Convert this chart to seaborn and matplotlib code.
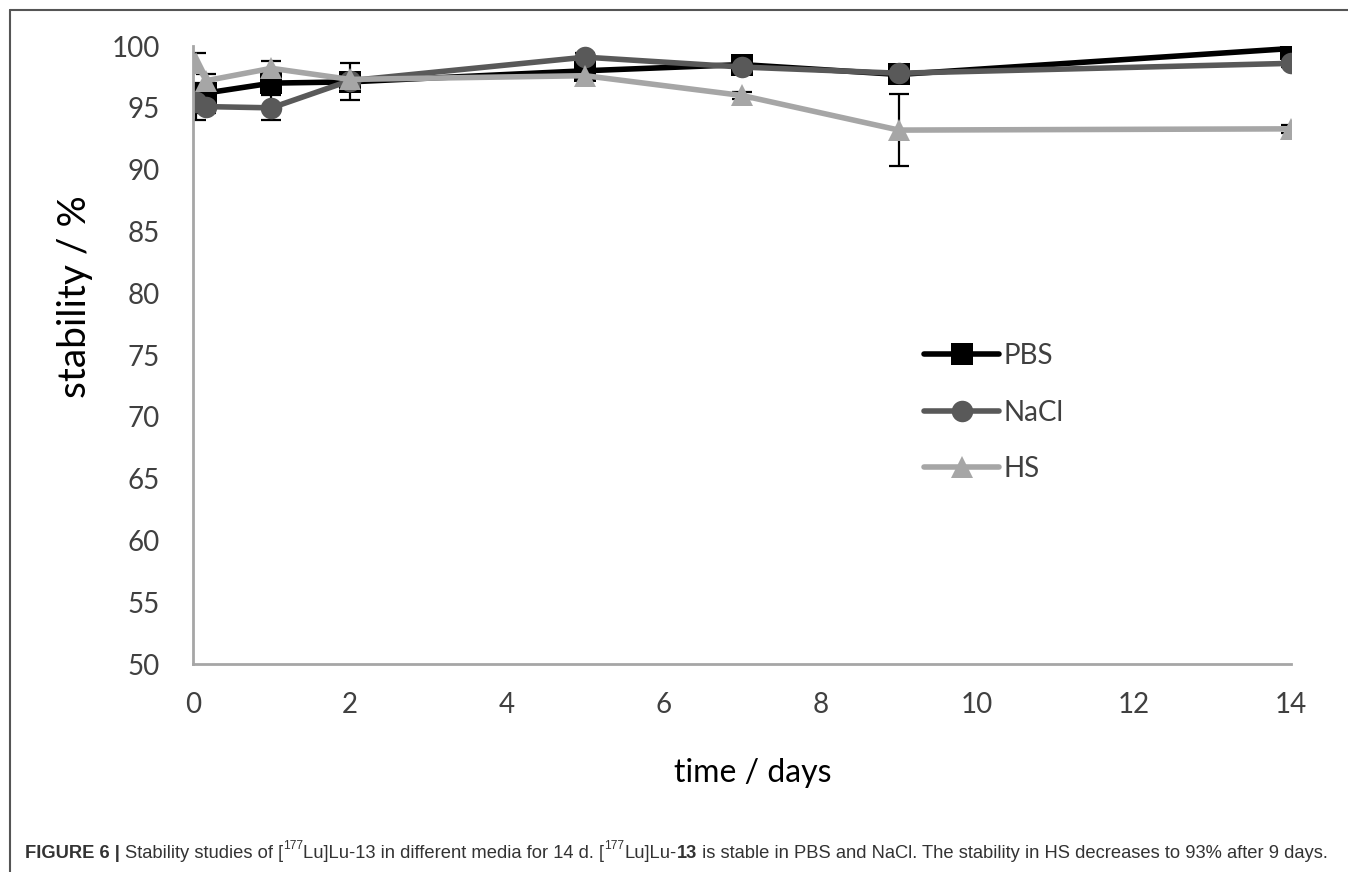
import matplotlib
matplotlib.use("Agg")
import matplotlib.pyplot as plt
import seaborn as sns
import pandas as pd
from matplotlib.lines import Line2D

# ---- data ----
time_days = [0.04, 0.17, 1, 2, 5, 7, 9, 14]
pbs = [96.0, 96.2, 97.0, 97.1, 98.0, 98.5, 97.7, 99.8]
nacl = [95.5, 95.1, 95.0, 97.2, 99.1, 98.3, 97.8, 98.6]
hs = [98.6, 97.2, 98.2, 97.3, 97.6, 96.0, 93.2, 93.3]
pbs_err = [0.5, 0.4, 0.5, 1.5, 0.3, 0.3, 0.3, 0.3]
nacl_err = [1.5, 0.5, 1.0, 0.5, 0.3, 0.3, 0.3, 0.3]
hs_err = [0.8, 0.5, 0.6, 0.5, 0.3, 0.3, 2.9, 0.3]
media = ["PBS", "NaCl", "HS"]
y_ticks = [50, 55, 60, 65, 70, 75, 80, 85, 90, 95, 100]
x_ticks = [0, 2, 4, 6, 8, 10, 12, 14]

colors = {"PBS": "#000000", "NaCl": "#595959", "HS": "#a6a6a6"}
markers = {"PBS": "s", "NaCl": "o", "HS": "^"}

rows = []
for name, vals in zip(media, [pbs, nacl, hs]):
    for t, v in zip(time_days, vals):
        rows.append({"time": t, "stability": v, "medium": name})
df = pd.DataFrame(rows)

sns.set_style("white")
plt.rcParams["font.family"] = ["Lato", "DejaVu Sans"]

fig = plt.figure(figsize=(13.48, 8.72), dpi=100)
ax = fig.add_axes([0.1432, 0.2385, 0.8145, 0.7087])

# error bars (below lines)
for name, vals, err in zip(media, [pbs, nacl, hs], [pbs_err, nacl_err, hs_err]):
    ax.errorbar(time_days, vals, yerr=err, fmt="none", ecolor="black",
                elinewidth=1.6, capsize=7, capthick=1.6, zorder=1.5)

sns.lineplot(data=df, x="time", y="stability", hue="medium", style="medium",
             hue_order=media, style_order=media, palette=colors, markers=markers,
             dashes=False, markersize=15.5, linewidth=4, markeredgewidth=0,
             legend=False, ax=ax, zorder=2)

ax.set_xlim(0, 14)
ax.set_ylim(50, 100)
ax.set_xticks(x_ticks)
ax.set_yticks(y_ticks)
ax.tick_params(axis="both", length=0, labelsize=20, labelcolor="#404040")
ax.tick_params(axis="y", pad=24)
ax.tick_params(axis="x", pad=20)
for s in ["top", "right"]:
    ax.spines[s].set_visible(False)
for s in ["left", "bottom"]:
    ax.spines[s].set_color("#a6a6a6")
    ax.spines[s].set_linewidth(2)
ax.grid(False)
ax.set_xlabel("time / days", fontsize=23, color="#000000", va="center")
ax.set_ylabel("stability / %", fontsize=28, color="#000000", va="center")
ax.xaxis.set_label_coords(0.51, -0.176)
ax.yaxis.set_label_coords(-0.1075, 0.595)

handles = [Line2D([0], [0], color=colors[m], marker=markers[m], markersize=15.5,
                  markeredgewidth=0, linewidth=4) for m in media]
leg = ax.legend(handles, media, loc="upper left", bbox_to_anchor=(0.643, 0.56),
                frameon=False, fontsize=20, handlelength=2.7, handletextpad=0.15,
                labelspacing=1.1, labelcolor="#404040")

# figure border
fig.add_artist(Line2D([10 / 1348, 1.0], [1 - 10 / 872, 1 - 10 / 872],
                      transform=fig.transFigure, color="#555555", linewidth=1.5))
fig.add_artist(Line2D([10 / 1348, 10 / 1348], [0.0, 1 - 10 / 872],
                      transform=fig.transFigure, color="#555555", linewidth=1.5))

# caption
cap_font = ["Liberation Sans", "DejaVu Sans"]
fs = 13.25
pieces = [
    ("FIGURE 6 | ", "bold", False),
    ("Stability studies of [", "normal", False),
    ("177", "normal", True),
    ("Lu]Lu-13 in different media for 14 d. [", "normal", False),
    ("177", "normal", True),
    ("Lu]Lu-", "normal", False),
    ("13", "bold", False),
    (" is stable in PBS and NaCl. The stability in HS decreases to 93% after 9 days.", "normal", False),
]
prev = None
prev_normal = None
for txt, weight, sup in pieces:
    if prev is None:
        t = fig.text(25 / 1348, 1 - 862 / 872, txt, fontsize=fs, fontweight=weight,
                     family=cap_font, color="#333333", va="bottom", ha="left")
    elif sup:
        t = ax.annotate(txt, xy=(1, 0), xycoords=prev, xytext=(0, 7),
                        textcoords="offset points", fontsize=fs * 0.65,
                        family=cap_font, color="#333333", va="bottom", ha="left",
                        annotation_clip=False)
    else:
        t = ax.annotate(txt, xy=(1, 0), xycoords=(prev, prev_normal),
                        fontsize=fs, fontweight=weight, family=cap_font,
                        color="#333333", va="bottom", ha="left",
                        annotation_clip=False)
    prev = t
    if not sup:
        prev_normal = t

fig.savefig("out.png", dpi=100)
